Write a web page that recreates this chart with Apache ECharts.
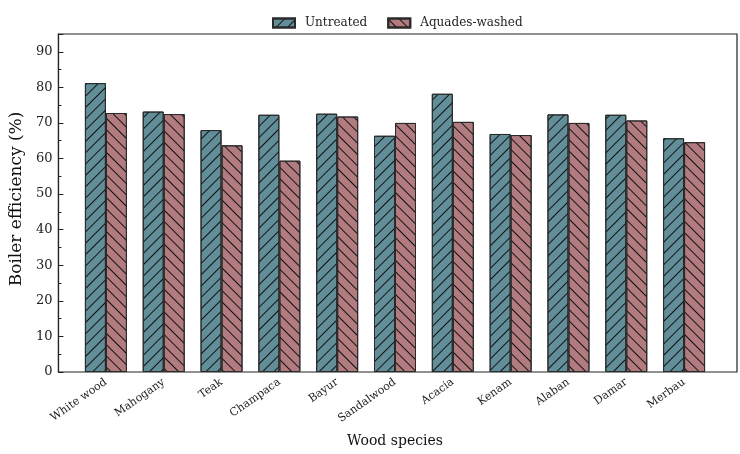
<!DOCTYPE html>
<html><head><meta charset="utf-8">
<script src="https://cdn.jsdelivr.net/npm/echarts@6/dist/echarts.min.js"></script>
<style>html,body{margin:0;padding:0;background:#fff}#c{width:740px;height:454px}</style>
</head><body><div id="c"></div>
<script>
const categories = ['White wood','Mahogany','Teak','Champaca','Bayur','Sandalwood','Acacia','Kenam','Alaban','Damar','Merbau'];
const untreated = [81.2, 73.2, 68.0, 72.3, 72.6, 66.4, 78.2, 66.9, 72.4, 72.3, 65.7];
const aquadesWashed = [72.8, 72.5, 63.7, 59.4, 71.8, 70.0, 70.3, 66.6, 70.0, 70.7, 64.6];
const yTicks = [0,10,20,30,40,50,60,70,80,90];

const FONT = 'DejaVu Serif';
const chart = echarts.init(document.getElementById('c'), null, {renderer:'canvas'});
function hatch(rot){
  return {symbol:'rect', symbolSize:1, dashArrayX:[[1,0]], dashArrayY:[1,6.2], rotation:rot, color:'#111', backgroundColor:null};
}
chart.setOption({
  animation:false,
  backgroundColor:'#fff',
  legend:{
    left:267, top:12, itemWidth:22, itemHeight:9, itemGap:20, icon:'rect',
    textStyle:{fontFamily:FONT, fontSize:12, color:'#222', padding:[0,0,0,5]},
    data:['Untreated','Aquades-washed']
  },
  grid:[
    {left:53, right:3, top:34, bottom:82, show:true, borderColor:'#222', borderWidth:1.2, backgroundColor:'transparent'},
    {left:77, right:27, top:34, bottom:82}
  ],
  xAxis:[
    {type:'value', gridIndex:0, min:0, max:1, show:false},
    {type:'category', gridIndex:1, data:categories,
     axisLine:{show:false}, axisTick:{show:false},
     axisLabel:{rotate:35, margin:9, fontFamily:FONT, fontSize:11, color:'#222', interval:0},
     name:'Wood species', nameLocation:'middle', nameGap:62,
     nameTextStyle:{fontFamily:FONT, fontSize:14, color:'#111'}}
  ],
  yAxis:[
    {type:'value', gridIndex:0, min:0, max:95, interval:10,
     axisLine:{show:true, lineStyle:{color:'#222', width:1.2}},
     axisTick:{show:true, inside:true, length:5, lineStyle:{color:'#222'}},
     minorTick:{show:true, splitNumber:2, length:3, lineStyle:{color:'#222'}},
     splitLine:{show:false},
     axisLabel:{fontFamily:FONT, fontSize:13, color:'#222', margin:6,
       formatter:function(v){return yTicks.indexOf(v)>=0?String(v):'';}},
     name:'Boiler efficiency (%)', nameLocation:'middle', nameGap:27, nameRotate:90,
     nameTextStyle:{fontFamily:FONT, fontSize:17, color:'#111', padding:[0,0,0,8]}},
    {type:'value', gridIndex:1, min:0, max:95, show:false}
  ],
  series:[
    {name:'Untreated', type:'bar', xAxisIndex:1, yAxisIndex:1, data:untreated,
     barWidth:21, barGap:'0%',
     itemStyle:{color:'#618e99', borderColor:'#2a2a2a', borderWidth:1, decal:hatch(-Math.PI/4)}},
    {name:'Aquades-washed', type:'bar', xAxisIndex:1, yAxisIndex:1, data:aquadesWashed,
     barWidth:21, barGap:'0%',
     itemStyle:{color:'#b27b7f', borderColor:'#2a2a2a', borderWidth:1, decal:hatch(Math.PI/4)}}
  ]
});
</script></body></html>
